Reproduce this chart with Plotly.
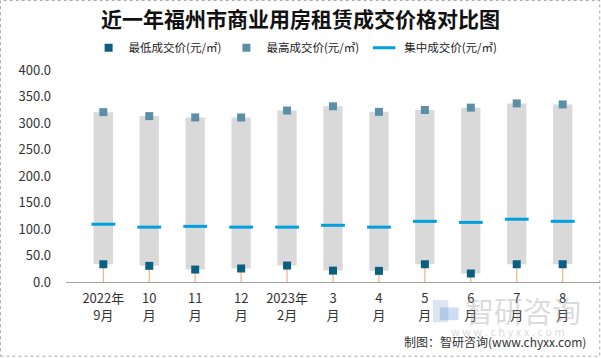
import plotly.graph_objects as go

categories = ["2022年<br>9月", "10<br>月", "11<br>月", "12<br>月", "2023年<br>2月", "3<br>月", "4<br>月", "5<br>月", "6<br>月", "7<br>月", "8<br>月"]
min_price = [33.5, 30.5, 23.5, 25.5, 31.0, 21.5, 21.0, 33.5, 16.0, 33.5, 33.5]
max_price = [320.5, 313.0, 310.5, 310.5, 323.5, 331.5, 321.0, 324.5, 329.0, 337.0, 335.0]
mid_price = [109.0, 103.5, 105.0, 103.5, 103.5, 107.0, 103.5, 114.5, 112.5, 118.5, 114.5]

FONT = "Noto Sans CJK SC"

fig = go.Figure()

fig.add_trace(go.Bar(
    x=categories, y=[mx - mn for mx, mn in zip(max_price, min_price)], base=min_price,
    marker=dict(color="#D9D9D9", line=dict(width=0)), width=0.42,
    showlegend=False, hoverinfo="skip"))

sx, sy = [], []
for c, v in zip(categories, min_price):
    sx += [c, c, None]
    sy += [0, v, None]
fig.add_trace(go.Scatter(x=sx, y=sy, mode="lines", line=dict(color="#F4B183", width=1.2),
                         showlegend=False, hoverinfo="skip"))

fig.add_trace(go.Scatter(x=categories, y=min_price, mode="markers", name="最低成交价(元/㎡)",
                         marker=dict(symbol="square", size=8, color="#0B5F80")))
fig.add_trace(go.Scatter(x=categories, y=max_price, mode="markers", name="最高成交价(元/㎡)",
                         marker=dict(symbol="square", size=8, color="#5B8FA8")))
fig.add_trace(go.Scatter(x=categories, y=mid_price, mode="markers", name="集中成交价(元/㎡)",
                         marker=dict(symbol="line-ew-open", size=17, color="#00A0DC",
                                     line=dict(color="#00A0DC", width=3))))

fig.update_layout(
    width=601, height=358,
    margin=dict(l=66, r=1, t=70, b=76),
    paper_bgcolor="white", plot_bgcolor="white",
    font=dict(family=FONT, size=12, color="#333333"),
    title=dict(text="<b>近一年福州市商业用房租赁成交价格对比图</b>", x=0.5, xanchor="center",
               y=0.944, yanchor="middle", font=dict(size=21, color="#111111", family=FONT)),
    legend=dict(orientation="h", x=0.43, xanchor="center", y=1.105, yanchor="middle",
                font=dict(size=11.5, color="#222222"), itemwidth=30, tracegroupgap=0,
                bgcolor="rgba(0,0,0,0)"),
    showlegend=True,
)
fig.update_yaxes(range=[0, 400], dtick=50, tickformat=".1f", showgrid=False, zeroline=False,
                 showline=False, ticks="", ticklabelstandoff=14,
                 tickfont=dict(size=13, color="#333333"))
fig.update_xaxes(showgrid=False, showline=True, linecolor="#A0A0A0", linewidth=1, ticks="",
                 ticklabelstandoff=4, tickfont=dict(size=13, color="#333333"))

# watermark
fig.add_annotation(xref="paper", yref="paper", x=0.856, y=-0.132, text="智研咨询", showarrow=False,
                   xanchor="center", yanchor="middle",
                   font=dict(size=29, color="rgba(160,160,160,0.4)", family=FONT))
fig.add_annotation(xref="paper", yref="paper", x=0.828, y=-0.23, text="w w w . c h y x x . c o m",
                   showarrow=False, xanchor="center", yanchor="middle",
                   font=dict(size=11, color="rgba(160,160,160,0.4)", family=FONT))
fig.add_shape(type="rect", xref="paper", yref="paper", x0=0.687, x1=0.716, y0=-0.19, y1=-0.085,
              line=dict(width=0), fillcolor="rgba(120,150,200,0.25)")
fig.add_shape(type="rect", xref="paper", yref="paper", x0=0.700, x1=0.735, y0=-0.18, y1=-0.12,
              line=dict(width=0), fillcolor="rgba(60,120,200,0.25)")
# footer
fig.add_annotation(xref="paper", yref="paper", x=0.977, y=-0.28, xanchor="right", yanchor="middle",
                   text="制图：智研咨询(www.chyxx.com)", showarrow=False,
                   font=dict(size=12, color="#333333", family=FONT))
# outer border
fig.add_shape(type="rect", xref="paper", yref="paper", x0=-0.1227, x1=0.9995, y0=-0.35, y1=1.328,
              line=dict(color="#AAAAAA", width=1, dash="dot"))

fig.write_html("out.html", config={"displayModeBar": False},
               post_script="document.body.style.margin='0';document.body.style.overflow='hidden';")
